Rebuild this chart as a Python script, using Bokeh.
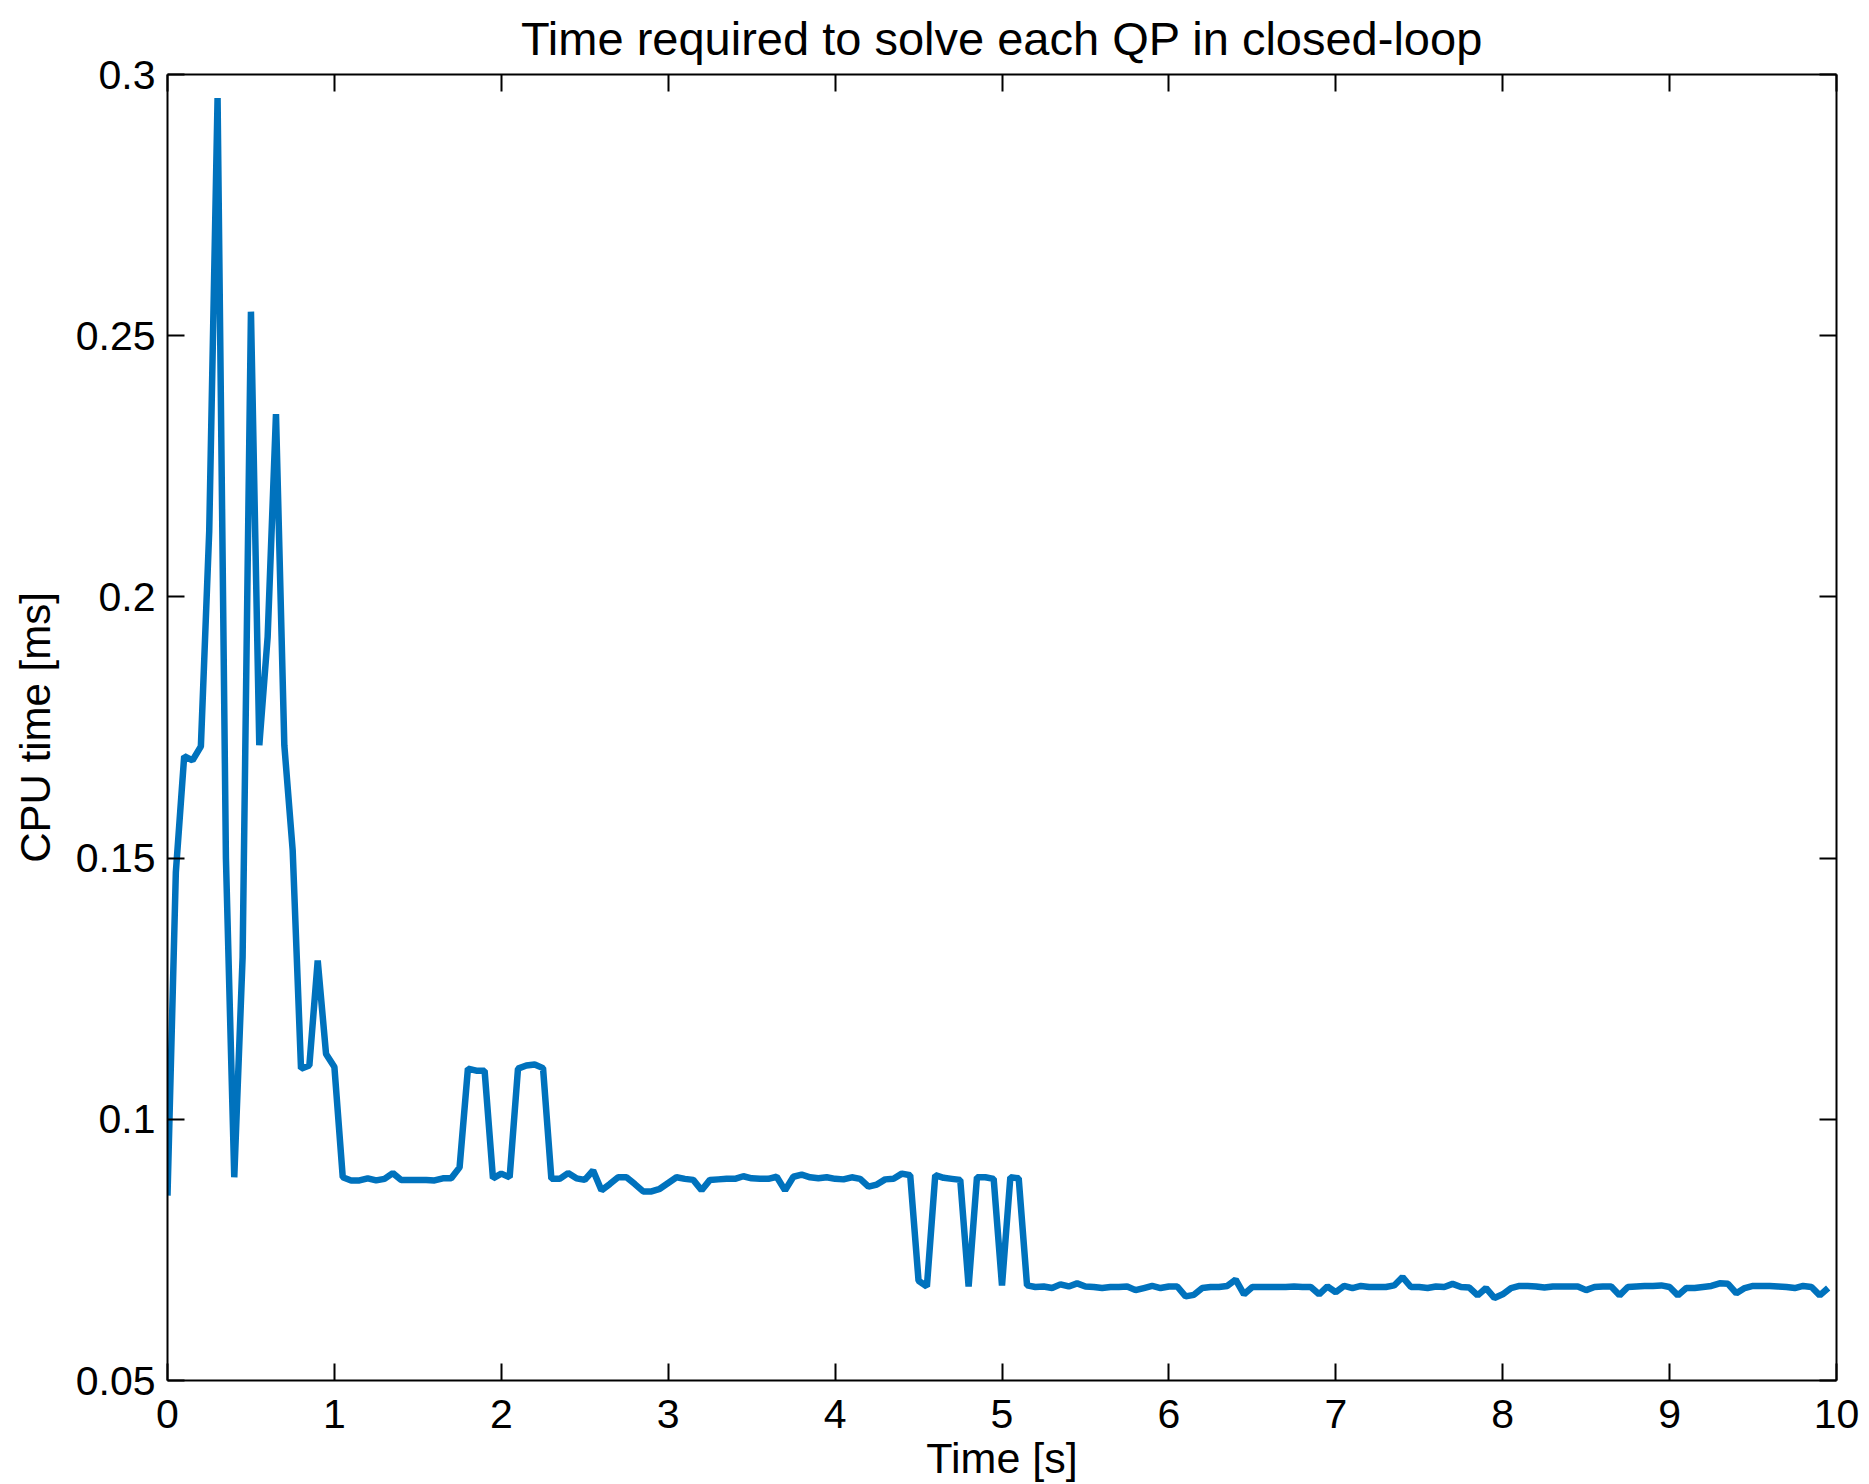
from bokeh.plotting import figure
from bokeh.models import LinearAxis, FixedTicker, Range1d, ColumnDataSource
from bokeh.embed import file_html
from bokeh.resources import INLINE

# ---- data ----
sample_period = 0.05  # s
cpu_time_ms = [
    0.0854, 0.1473, 0.1695, 0.1687, 0.1714, 0.2126, 0.2955, 0.1500, 0.0889, 0.1310,
    0.2546, 0.1716, 0.1923, 0.2350, 0.1716, 0.1515, 0.1097, 0.1103, 0.1304, 0.1125,
    0.1100, 0.0889, 0.0883, 0.0883, 0.0887, 0.0883, 0.0886, 0.0897, 0.0884, 0.0884,
    0.0884, 0.0884, 0.0883, 0.0887, 0.0887, 0.0908, 0.1097, 0.1093, 0.1093, 0.0887,
    0.0896, 0.0889, 0.1097, 0.1103, 0.1105, 0.1098, 0.0886, 0.0886, 0.0897, 0.0887,
    0.0884, 0.0902, 0.0864, 0.0876, 0.0889, 0.0889, 0.0876, 0.0862, 0.0862, 0.0867,
    0.0878, 0.0889, 0.0886, 0.0884, 0.0864, 0.0884, 0.0885, 0.0886, 0.0886, 0.0891,
    0.0887, 0.0886, 0.0886, 0.0890, 0.0864, 0.0890, 0.0894, 0.0889, 0.0887, 0.0889,
    0.0886, 0.0885, 0.0889, 0.0886, 0.0871, 0.0875, 0.0885, 0.0886, 0.0896, 0.0893,
    0.0691, 0.0680, 0.0893, 0.0888, 0.0886, 0.0884, 0.0680, 0.0889, 0.0889, 0.0886,
    0.0682, 0.0889, 0.0887, 0.0682, 0.0679, 0.0680, 0.0677, 0.0684, 0.0680, 0.0686,
    0.0680, 0.0679, 0.0677, 0.0679, 0.0679, 0.0680, 0.0673, 0.0677, 0.0681, 0.0677,
    0.0680, 0.0680, 0.0661, 0.0664, 0.0677, 0.0679, 0.0679, 0.0681, 0.0693, 0.0665,
    0.0679, 0.0679, 0.0679, 0.0679, 0.0679, 0.0680, 0.0679, 0.0679, 0.0665, 0.0680,
    0.0669, 0.0681, 0.0677, 0.0681, 0.0679, 0.0679, 0.0679, 0.0682, 0.0698, 0.0679,
    0.0679, 0.0677, 0.0680, 0.0679, 0.0685, 0.0679, 0.0678, 0.0663, 0.0677, 0.0658,
    0.0665, 0.0677, 0.0681, 0.0681, 0.0680, 0.0678, 0.0680, 0.0680, 0.0680, 0.0680,
    0.0673, 0.0679, 0.0680, 0.0680, 0.0663, 0.0679, 0.0680, 0.0681, 0.0681, 0.0682,
    0.0679, 0.0663, 0.0677, 0.0677, 0.0679, 0.0681, 0.0686, 0.0685, 0.0667, 0.0677,
    0.0681, 0.0681, 0.0681, 0.0680, 0.0679, 0.0677, 0.0681, 0.0679, 0.0663, 0.0677,
]
time_s = [i * sample_period for i in range(len(cpu_time_ms))]

x_ticks = [0, 1, 2, 3, 4, 5, 6, 7, 8, 9, 10]
x_tick_labels = ["0", "1", "2", "3", "4", "5", "6", "7", "8", "9", "10"]
y_ticks = [0.05, 0.1, 0.15, 0.2, 0.25, 0.3]
y_tick_labels = ["0.05", "0.1", "0.15", "0.2", "0.25", "0.3"]

title_text = "Time required to solve each QP in closed-loop"
x_label = "Time [s]"
y_label = "CPU time [ms]"

FONT = "Liberation Sans"
LINE_COLOR = "#0072BD"

source = ColumnDataSource(data=dict(t=time_s, v=cpu_time_ms))

p = figure(
    width=1869, height=1484,
    output_backend="svg", toolbar_location=None,
    x_range=Range1d(0, 10), y_range=Range1d(0.05, 0.3),
    min_border_left=167, min_border_right=33,
    min_border_top=74, min_border_bottom=104,
    background_fill_color="white", border_fill_color="white",
)
p.grid.visible = False
p.outline_line_color = None

p.title.text = title_text
p.title.align = "center"
p.title.text_font = FONT
p.title.text_font_size = "47px"
p.title.text_font_style = "normal"
p.title.text_color = "black"
p.title.standoff = 19

p.line("t", "v", source=source, line_color=LINE_COLOR, line_width=6.5)

top_axis = LinearAxis()
right_axis = LinearAxis()
p.add_layout(top_axis, "above")
p.add_layout(right_axis, "right")

def style_axis(ax, ticks, labels, show_labels):
    ax.ticker = FixedTicker(ticks=ticks, minor_ticks=[])
    ax.major_label_overrides = {t: l for t, l in zip(ticks, labels)}
    ax.axis_line_color = "black"
    ax.axis_line_width = 2
    ax.major_tick_line_color = "black"
    ax.major_tick_line_width = 2
    ax.major_tick_in = 17
    ax.major_tick_out = 0
    ax.minor_tick_line_color = None
    ax.major_label_text_font = FONT
    if show_labels:
        ax.major_label_text_font_size = "41px"
        ax.major_label_text_color = "black"
    else:
        ax.major_label_text_font_size = "1px"
        ax.major_label_text_color = None
        ax.major_label_standoff = 0

for ax in p.xaxis:
    style_axis(ax, x_ticks, x_tick_labels, ax is not top_axis)
for ax in p.yaxis:
    style_axis(ax, y_ticks, y_tick_labels, ax is not right_axis)

p.below[0].axis_label = x_label
p.left[0].axis_label = y_label
for ax, size in ((p.below[0], "43px"), (p.left[0], "42px")):
    ax.axis_label_text_font = FONT
    ax.axis_label_text_font_size = size
    ax.axis_label_text_font_style = "normal"
    ax.axis_label_text_color = "black"
p.below[0].major_label_standoff = 19
p.below[0].axis_label_standoff = 3
p.left[0].major_label_standoff = 12
p.left[0].axis_label_standoff = 14

open("out.html", "w").write(file_html(p, INLINE))
